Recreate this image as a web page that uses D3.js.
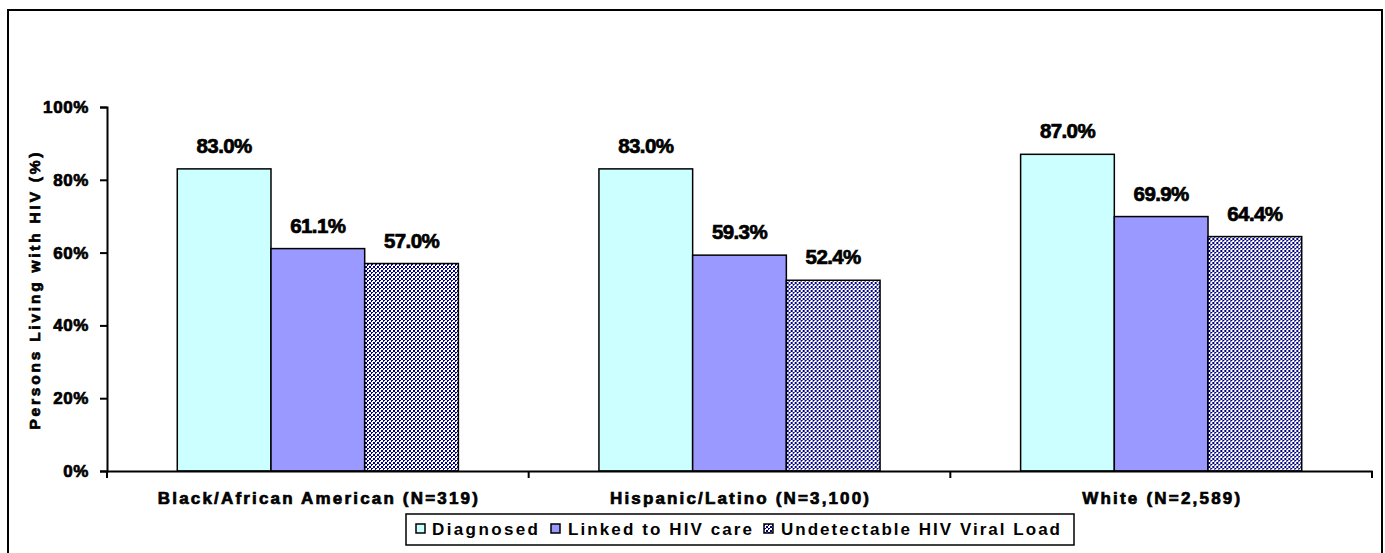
<!DOCTYPE html>
<html>
<head>
<meta charset="utf-8">
<script src="https://cdn.jsdelivr.net/npm/d3@7"></script>
<style>
  html, body { margin: 0; padding: 0; background: #fff; }
  svg { display: block; }
  text { font-family: "Liberation Sans", Arial, sans-serif; fill: #000; }
  .heavy { stroke: #000; stroke-width: 0.7px; paint-order: stroke; }
</style>
</head>
<body>
<svg id="chart" width="1385" height="553"></svg>
<script>
// ---- data ----
const categories = ["Black/African American (N=319)", "Hispanic/Latino (N=3,100)", "White (N=2,589)"];
const seriesNames = ["Diagnosed", "Linked to HIV care", "Undetectable HIV Viral Load"];
const diagnosed = [83.0, 83.0, 87.0];
const linked = [61.1, 59.3, 69.9];
const undetectable = [57.0, 52.4, 64.4];
const yTicks = [0, 20, 40, 60, 80, 100];
const yTitle = "Persons Living with HIV (%)";

// ---- layout ----
const plot = { left: 107, right: 1372, top: 107, bottom: 471 };
const colors = ["#CCFFFF", "#9999FF", "url(#dots)"];
const catLabelWidths = [320, 259, 158];
const legendItems = [
  { sx: 416, tx: 432, tw: 106 },
  { sx: 551, tx: 568, tw: 184 },
  { sx: 764, tx: 781, tw: 279 }
];

const svg = d3.select("#chart");
const defs = svg.append("defs");
const pat = defs.append("pattern").attr("id", "dots")
  .attr("patternUnits", "userSpaceOnUse").attr("width", 4).attr("height", 4);
pat.append("rect").attr("width", 4).attr("height", 4).attr("fill", "#ffffff");
[[0,0],[1,0],[0,1],[2,2],[3,2],[2,3],[3,3]].forEach(([x,y]) =>
  pat.append("rect").attr("x", x).attr("y", y).attr("width", 1).attr("height", 1).attr("fill", "#000080"));

// outer frame
svg.append("rect").attr("x", 8).attr("y", 10).attr("width", 1374).attr("height", 560)
  .attr("fill", "#fff").attr("stroke", "#000").attr("stroke-width", 2);

const series = [diagnosed, linked, undetectable];
const rows = categories.map((c, i) => ({ cat: c, values: series.map(s => s[i]) }));

const x0 = d3.scaleBand().domain(categories).range([plot.left, plot.right]).paddingInner(0).paddingOuter(0);
// Excel gap width 150%: bar = band/(3+1.5)
const barW = x0.bandwidth() / 4.5;
const y = d3.scaleLinear().domain([0, 100]).range([plot.bottom, plot.top]);

// y axis
const yAxis = d3.axisLeft(y).tickValues(yTicks).tickFormat(d => d + "%").tickSize(7).tickPadding(11);
const gy = svg.append("g").attr("transform", `translate(${plot.left},0)`).call(yAxis);
gy.select(".domain").attr("stroke", "#000").attr("stroke-width", 2);
gy.selectAll(".tick line").attr("stroke", "#000").attr("stroke-width", 2);
gy.selectAll(".tick text").attr("font-size", 17).attr("font-weight", "bold").attr("class", "heavy")
  .attr("letter-spacing", 0.6).attr("font-family", "'Liberation Sans', Arial, sans-serif").attr("fill", "#000");

// bars
const groups = svg.append("g").selectAll("g").data(rows).join("g")
  .attr("transform", d => `translate(${x0(d.cat)},0)`);
groups.selectAll("rect").data(d => d.values.map((v, j) => ({ v, j }))).join("rect")
  .attr("x", d => 0.75 * barW + d.j * barW)
  .attr("y", d => y(d.v))
  .attr("width", barW)
  .attr("height", d => y(0) - y(d.v))
  .attr("fill", d => colors[d.j])
  .attr("stroke", "#000").attr("stroke-width", 1.5);

groups.selectAll("text").data(d => d.values.map((v, j) => ({ v, j }))).join("text")
  .attr("class", "heavy")
  .attr("x", d => 0.75 * barW + d.j * barW + barW / 2)
  .attr("y", d => y(d.v) - 16)
  .attr("text-anchor", "middle")
  .attr("font-size", 20.5).attr("font-weight", "bold")
  .attr("letter-spacing", -0.6)
  .text(d => d.v.toFixed(1) + "%");

// x axis
const xAxis = d3.axisBottom(x0).tickValues([]).tickSizeOuter(0);
const gx = svg.append("g").attr("transform", `translate(0,${plot.bottom})`).call(xAxis);
gx.select(".domain").attr("stroke", "#000").attr("stroke-width", 2);
const bounds = [plot.left, ...categories.map(c => x0(c) + x0.bandwidth())];
gx.selectAll("line.sep").data(bounds).join("line").attr("class", "sep")
  .attr("x1", d => d).attr("x2", d => d).attr("y1", 0).attr("y2", 7)
  .attr("stroke", "#000").attr("stroke-width", 2);

svg.append("g").selectAll("text").data(categories).join("text")
  .attr("class", "heavy")
  .attr("x", d => x0(d) + x0.bandwidth() / 2)
  .attr("y", 504)
  .attr("text-anchor", "middle")
  .attr("font-size", 17).attr("font-weight", "bold")
  .attr("textLength", (d, i) => catLabelWidths[i]).attr("lengthAdjust", "spacing")
  .text(d => d);

// y title
svg.append("text")
  .attr("class", "heavy")
  .attr("transform", `translate(40,${(plot.top + plot.bottom) / 2 + 2}) rotate(-90)`)
  .attr("text-anchor", "middle")
  .attr("font-size", 15.5).attr("font-weight", "bold")
  .attr("textLength", 277).attr("lengthAdjust", "spacing")
  .text(yTitle);

// legend
svg.append("rect").attr("x", 406).attr("y", 514).attr("width", 668).attr("height", 31)
  .attr("fill", "#fff").attr("stroke", "#000").attr("stroke-width", 1.5);
const lg = svg.append("g").selectAll("g").data(seriesNames).join("g");
lg.append("rect")
  .attr("x", (d, i) => legendItems[i].sx).attr("y", 524).attr("width", 9).attr("height", 9)
  .attr("fill", (d, i) => colors[i]).attr("stroke", "#000").attr("stroke-width", 1.5);
lg.append("text")
  .attr("x", (d, i) => legendItems[i].tx).attr("y", 535)
  .attr("font-size", 17).attr("font-weight", "bold")
  .attr("textLength", (d, i) => legendItems[i].tw).attr("lengthAdjust", "spacing")
  .text(d => d);
</script>
</body>
</html>
